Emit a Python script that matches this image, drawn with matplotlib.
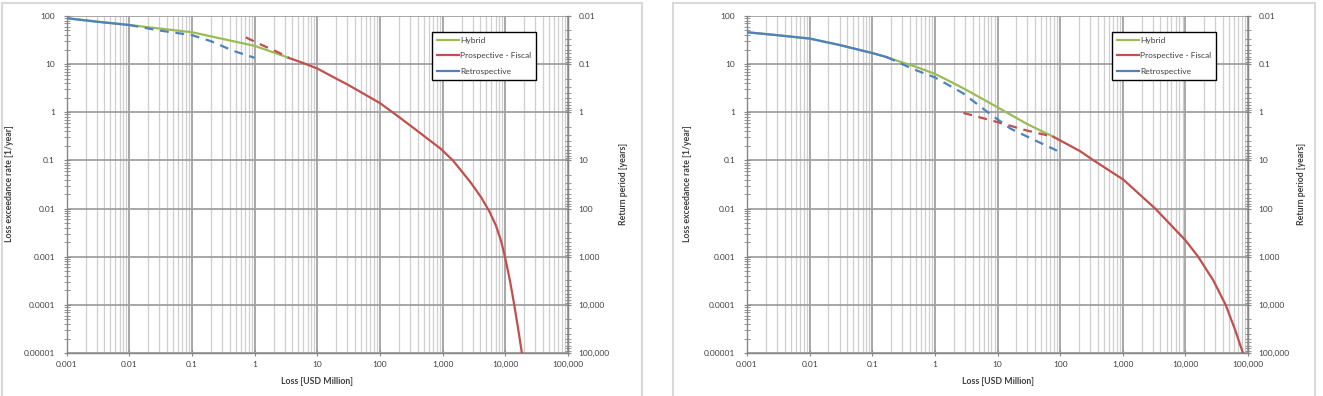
import numpy as np
import matplotlib
matplotlib.use('Agg')
import matplotlib.pyplot as plt
from matplotlib.ticker import FixedLocator, FixedFormatter, LogLocator, NullFormatter
from matplotlib.patches import Rectangle

plt.rcParams['font.family'] = ['Lato', 'DejaVu Sans']

# axis ticks
x_ticks = [0.001, 0.01, 0.1, 1, 10, 100, 1000, 10000, 100000]
x_labels = ['0.001', '0.01', '0.1', '1', '10', '100', '1,000', '10,000', '100,000']
y_ticks = [0.00001, 0.0001, 0.001, 0.01, 0.1, 1, 10, 100]
y_labels = ['0.00001', '0.0001', '0.001', '0.01', '0.1', '1', '10', '100']
rp_ticks = [0.01, 0.1, 1, 10, 100, 1000, 10000, 100000]
rp_labels = ['0.01', '0.1', '1', '10', '100', '1,000', '10,000', '100,000']

series_names = ['Hybrid', 'Prospective - Fiscal', 'Retrospective']

# left chart (loss in USD million, rate 1/year)
l_hyb_loss = [0.001, 0.01, 0.03, 0.1, 0.4, 1, 2, 3.5]
l_hyb_rate = [90, 65, 55, 46, 31, 24, 17.5, 13.5]
l_pro_ext_loss = [0.72, 1.3, 2.4, 3.5]
l_pro_ext_rate = [36, 25, 17.5, 13.5]
l_pro_loss = [3.5, 6, 10, 20, 30, 50, 100, 200, 360, 600, 930, 1456, 2000, 2850, 4100,
              5570, 7100, 8530, 9860, 11840, 13870, 16060, 18360]
l_pro_rate = [13.5, 10.5, 8.1, 5.0, 3.8, 2.6, 1.55, 0.8, 0.45, 0.27, 0.175, 0.1, 0.06, 0.0337, 0.0172,
              0.0087, 0.0044, 0.00215, 0.001, 0.00032, 0.0001, 0.000031, 0.00001]
l_ret_loss = [0.001, 0.003, 0.01]
l_ret_rate = [90, 76, 65]
l_ret_ext_loss = [0.01, 0.03, 0.1, 0.2, 0.45, 1.0]
l_ret_ext_rate = [65, 50, 40, 30, 19, 13.5]

# right chart
r_hyb_loss = [0.001, 0.003, 0.01, 0.03, 0.1, 0.17, 0.28, 0.5, 1.0, 2.0, 3.2, 9.8, 29, 78]
r_hyb_rate = [46, 40, 34, 25, 17, 14, 11.2, 8.8, 6.3, 4.0, 2.9, 1.29, 0.58, 0.31]
r_pro_ext_loss = [2.85, 9.8, 29, 78]
r_pro_ext_rate = [0.97, 0.63, 0.42, 0.31]
r_pro_loss = [78, 208, 343, 1020, 3300, 10000, 16000, 28000, 44000, 63000, 83000]
r_pro_rate = [0.31, 0.156, 0.1, 0.04, 0.01, 0.0022, 0.001, 0.00032, 0.0001, 0.000029, 0.00001]
r_ret_loss = [0.001, 0.003, 0.01, 0.03, 0.1, 0.17]
r_ret_rate = [46, 40, 34, 25, 17, 14]
r_ret_ext_loss = [0.17, 0.46, 1, 2.8, 7, 16, 40, 89]
r_ret_ext_rate = [14, 7.8, 5.3, 2.5, 1.0, 0.46, 0.26, 0.16]

green = '#9bbb59'
red = '#c0504d'
blue = '#4f81bd'
txt = '#404040'
W, H = 1323, 396

fig = plt.figure(figsize=(W / 100, H / 100), dpi=100)

# chart area borders
for x0, x1 in [(2, 642), (673, 1315)]:
    fig.patches.append(Rectangle((x0 / W, -0.05), (x1 - x0) / W, 1.05 - 3 / H,
                                 transform=fig.transFigure, fill=False,
                                 edgecolor='#d9d9d9', lw=1.5))


def draw(left_px, right_px, hyb, pro_ext, pro, ret, ret_ext, ylab_x, rlab_x):
    ax = fig.add_axes([left_px / W, 1 - 353 / H, (right_px - left_px) / W, 337 / H])
    ax.set_xscale('log')
    ax.set_yscale('log')
    ax.set_xlim(0.001, 100000)
    ax.set_ylim(0.00001, 100)

    ax.plot(hyb[0], hyb[1], color=green, lw=1.6, label=series_names[0], zorder=3)
    ax.plot(pro_ext[0], pro_ext[1], color=red, lw=1.6, ls=(0, (4, 3)), zorder=3)
    ax.plot(pro[0], pro[1], color=red, lw=1.6, label=series_names[1], zorder=3)
    ax.plot(ret[0], ret[1], color=blue, lw=1.6, label=series_names[2], zorder=4)
    ax.plot(ret_ext[0], ret_ext[1], color=blue, lw=1.6, ls=(0, (4, 3)), zorder=4)

    ax.xaxis.set_major_locator(FixedLocator(x_ticks))
    ax.xaxis.set_major_formatter(FixedFormatter(x_labels))
    ax.xaxis.set_minor_locator(LogLocator(base=10, subs=np.arange(2, 10), numticks=20))
    ax.xaxis.set_minor_formatter(NullFormatter())
    ax.yaxis.set_major_locator(FixedLocator(y_ticks))
    ax.yaxis.set_major_formatter(FixedFormatter(y_labels))
    ax.yaxis.set_minor_locator(LogLocator(base=10, subs=np.arange(2, 10), numticks=20))
    ax.yaxis.set_minor_formatter(NullFormatter())

    ax.grid(True, which='major', axis='both', color='#a0a0a0', lw=1.3, zorder=0)
    ax.grid(True, which='minor', axis='x', color='#cfcfcf', lw=0.9, zorder=0)
    ax.set_axisbelow(True)

    ax.tick_params(axis='x', which='major', direction='inout', length=4, width=0.8,
                   color='#868686', labelsize=6, labelcolor=txt, pad=4)
    ax.tick_params(axis='x', which='minor', length=0)
    ax.tick_params(axis='y', which='major', direction='inout', length=5, width=0.8,
                   color='#868686', labelsize=6, labelcolor=txt, pad=6)
    ax.tick_params(axis='y', which='minor', direction='inout', length=4, width=0.6,
                   color='#868686')
    for s in ['left', 'bottom', 'right']:
        ax.spines[s].set_color('#868686')
        ax.spines[s].set_linewidth(1.0)
    ax.spines['top'].set_visible(False)

    ax2 = ax.twinx()
    ax2.set_yscale('log')
    ax2.set_ylim(100000, 0.01)
    ax2.yaxis.set_major_locator(FixedLocator(rp_ticks))
    ax2.yaxis.set_major_formatter(FixedFormatter(rp_labels))
    ax2.yaxis.set_minor_locator(LogLocator(base=10, subs=np.arange(2, 10), numticks=20))
    ax2.yaxis.set_minor_formatter(NullFormatter())
    ax2.tick_params(axis='y', which='major', direction='inout', length=5, width=0.8,
                    color='#868686', labelsize=6, labelcolor=txt, pad=5)
    ax2.tick_params(axis='y', which='minor', direction='inout', length=4, width=0.6,
                    color='#868686')
    for s in ax2.spines.values():
        s.set_visible(False)
    ax2.spines['right'].set_visible(True)
    ax2.spines['right'].set_color('#868686')

    leg = ax.legend(loc='upper left', bbox_to_anchor=(0.729, 0.953), fontsize=6,
                    frameon=True, fancybox=False, framealpha=1, edgecolor='black',
                    handlelength=2.6, handletextpad=0.15, labelspacing=1.0,
                    borderpad=0.6, borderaxespad=0)
    leg.get_frame().set_linewidth(1.0)
    for t in leg.get_texts():
        t.set_color(txt)

    mid_x = (left_px + right_px) / 2 / W
    fig.text(mid_x, 1 - 382 / H, 'Loss [USD Million]', ha='center', va='center',
             fontsize=6.3, fontweight='bold', color=txt)
    fig.text(ylab_x / W, 1 - 184 / H, 'Loss exceedance rate [1/year]', ha='center',
             va='center', rotation=90, fontsize=6.3, fontweight='bold', color=txt)
    fig.text(rlab_x / W, 1 - 184 / H, 'Return period [years]', ha='center',
             va='center', rotation=90, fontsize=6.3, fontweight='bold', color=txt)


draw(66.7, 568, (l_hyb_loss, l_hyb_rate), (l_pro_ext_loss, l_pro_ext_rate),
     (l_pro_loss, l_pro_rate), (l_ret_loss, l_ret_rate), (l_ret_ext_loss, l_ret_ext_rate),
     10, 623)
draw(747, 1248, (r_hyb_loss, r_hyb_rate), (r_pro_ext_loss, r_pro_ext_rate),
     (r_pro_loss, r_pro_rate), (r_ret_loss, r_ret_rate), (r_ret_ext_loss, r_ret_ext_rate),
     688, 1302)

fig.savefig('out.png', dpi=100)
